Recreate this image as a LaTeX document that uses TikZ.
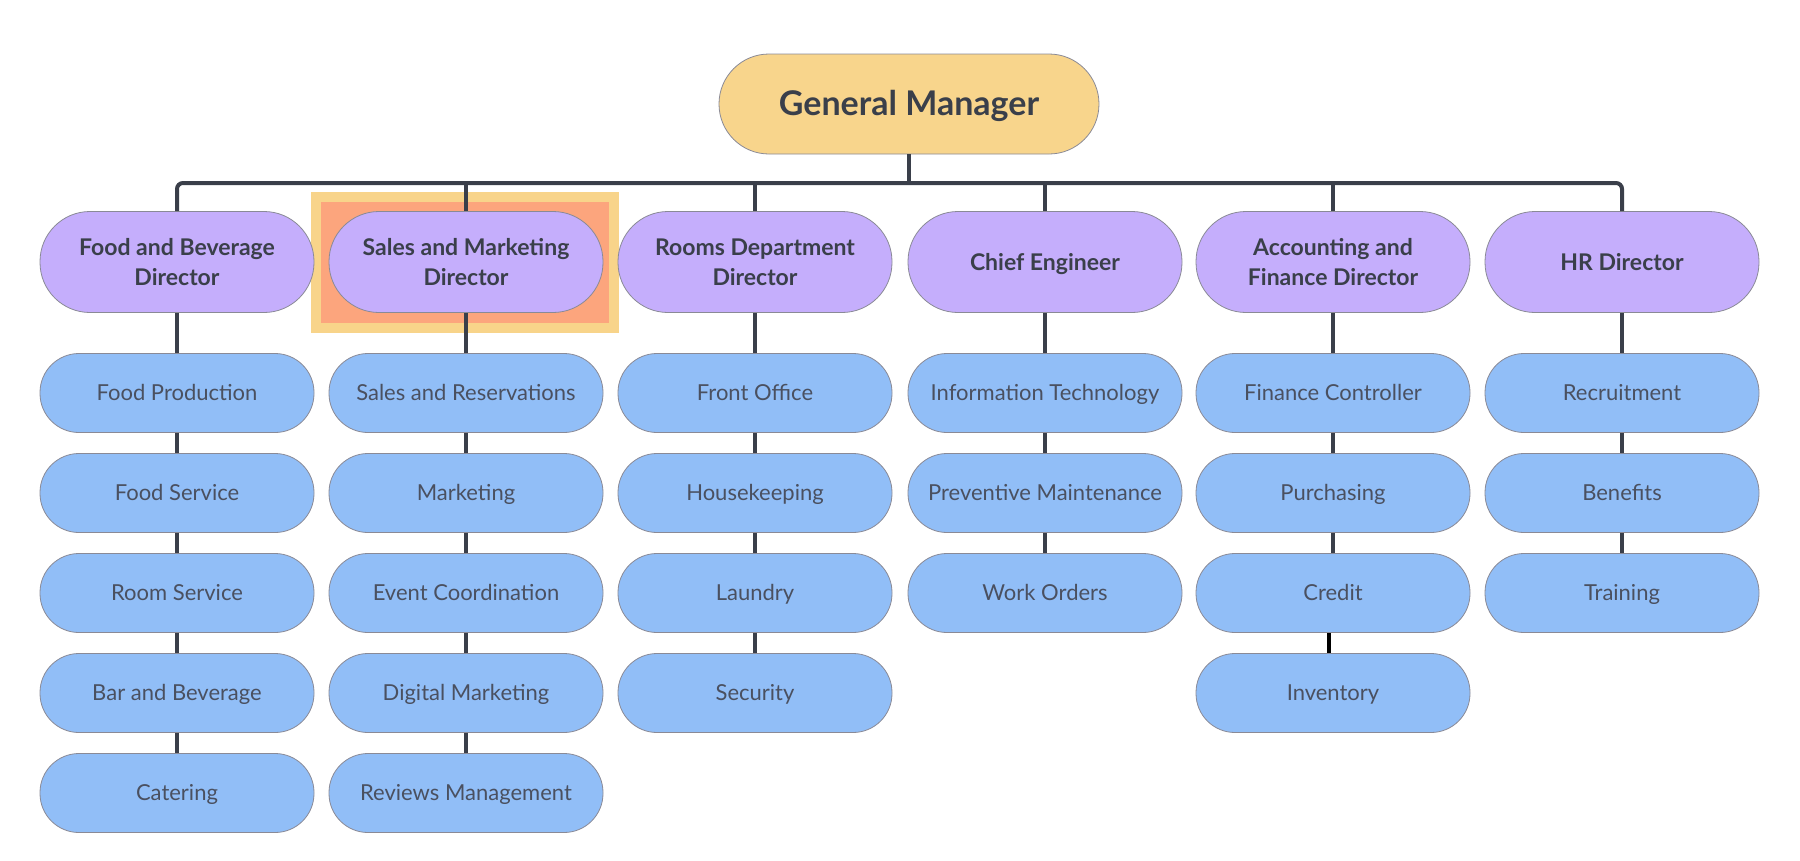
\documentclass[tikz,border=0pt]{standalone}
\usepackage{fontspec}
\setmainfont{Lato}
\definecolor{gmfill}{HTML}{F8D58C}
\definecolor{dirfill}{HTML}{C5AEFC}
\definecolor{subfill}{HTML}{91BEF7}
\definecolor{edge}{HTML}{8A8A96}
\definecolor{conncol}{HTML}{3A3F4A}
\definecolor{txtdark}{HTML}{3A3F4A}
\definecolor{txtsub}{HTML}{4A5060}
\definecolor{hlouter}{HTML}{F8D48A}
\definecolor{hlinner}{HTML}{FCA57D}
\tikzset{
  gmbox/.style={draw=edge, line width=0.8pt, fill=gmfill, minimum width=380pt, minimum height=100pt, rounded corners=50pt, font=\fontsize{34}{40}\selectfont\bfseries, text=txtdark, inner sep=0pt, text height=27pt, text depth=4pt},
  dirbase/.style={draw=edge, line width=0.8pt, fill=dirfill, minimum width=274pt, minimum height=101pt, rounded corners=50pt, font=\fontsize{23}{30}\selectfont\bfseries, text=txtdark, inner sep=0pt},
  dirbox/.style={dirbase, align=center},
  dirsingle/.style={dirbase, text height=20pt, text depth=3pt},
  subbox/.style={draw=edge, line width=0.8pt, fill=subfill, minimum width=274pt, minimum height=79pt, rounded corners=39pt, font=\fontsize{22}{26}\selectfont, text=txtsub, inner sep=0pt, text height=18pt, text depth=3pt},
  conn/.style={draw=conncol, line width=4pt},
  connblack/.style={draw=black, line width=4pt}
}
\begin{document}
\begin{tikzpicture}[x=1pt,y=-1pt]
\useasboundingbox (0,0) rectangle (1800,860);
% highlight behind Sales and Marketing Director
\fill[hlouter] (311,192) rectangle (619,333);
\fill[hlinner] (321,202) rectangle (609,323);

\node[gmbox] (gm) at (909,104) {General Manager};
\coordinate (bus) at (909,183);

\node[dirbox] (d1) at (177,262) {Food and Beverage\\Director};
\node[dirbox] (d2) at (466,262) {Sales and Marketing\\Director};
\node[dirbox] (d3) at (755,262) {Rooms Department\\Director};
\node[dirsingle] (d4) at (1045,262) {Chief Engineer};
\node[dirbox] (d5) at (1333,262) {Accounting and\\Finance Director};
\node[dirsingle] (d6) at (1622,262) {HR Director};

% column 1
\node[subbox] (a1) at (177,393) {Food Production};
\node[subbox] (a2) at (177,493) {Food Service};
\node[subbox] (a3) at (177,593) {Room Service};
\node[subbox] (a4) at (177,693) {Bar and Beverage};
\node[subbox] (a5) at (177,793) {Catering};
% column 2
\node[subbox] (b1) at (466,393) {Sales and Reservations};
\node[subbox] (b2) at (466,493) {Marketing};
\node[subbox] (b3) at (466,593) {Event Coordination};
\node[subbox] (b4) at (466,693) {Digital Marketing};
\node[subbox] (b5) at (466,793) {Reviews Management};
% column 3
\node[subbox] (c1) at (755,393) {Front Office};
\node[subbox] (c2) at (755,493) {Housekeeping};
\node[subbox] (c3) at (755,593) {Laundry};
\node[subbox] (c4) at (755,693) {Security};
% column 4
\node[subbox] (e1) at (1045,393) {Information Technology};
\node[subbox] (e2) at (1045,493) {Preventive Maintenance};
\node[subbox] (e3) at (1045,593) {Work Orders};
% column 5
\node[subbox] (f1) at (1333,393) {Finance Controller};
\node[subbox] (f2) at (1333,493) {Purchasing};
\node[subbox] (f3) at (1333,593) {Credit};
\node[subbox] (f4) at (1333,693) {Inventory};
% column 6
\node[subbox] (g1) at (1622,393) {Recruitment};
\node[subbox] (g2) at (1622,493) {Benefits};
\node[subbox] (g3) at (1622,593) {Training};

% connectors
\draw[conn] (gm.south) -- (bus);
\draw[conn, rounded corners=6pt] (d1.north) -- (d1.north |- bus) -- (d6.north |- bus) -- (d6.north);
\foreach \d in {d2,d3,d4,d5} { \draw[conn] (\d.north) -- (\d.north |- bus); }
\foreach \u/\v in {d1/a1,a1/a2,a2/a3,a3/a4,a4/a5,
                   d2/b1,b1/b2,b2/b3,b3/b4,b4/b5,
                   d3/c1,c1/c2,c2/c3,c3/c4,
                   d4/e1,e1/e2,e2/e3,
                   d5/f1,f1/f2,f2/f3,
                   d6/g1,g1/g2,g2/g3}
  { \draw[conn] (\u.south) -- (\v.north); }
\draw[connblack] ([xshift=-4pt]f3.south) -- ([xshift=-4pt]f4.north);
\end{tikzpicture}
\end{document}
